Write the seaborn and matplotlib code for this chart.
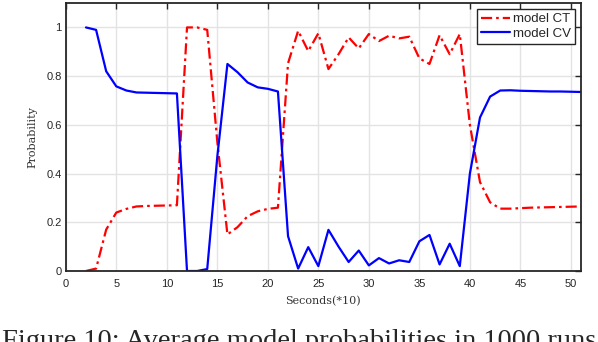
import numpy as np
import pandas as pd
import matplotlib
matplotlib.use("Agg")
import matplotlib.pyplot as plt
import seaborn as sns

# time steps (seconds * 10)
secs = list(range(2, 52))

# model CT probabilities
prob_ct = [0.00, 0.01, 0.17, 0.24, 0.255, 0.265, 0.267, 0.268, 0.269, 0.27,
           1.00, 1.00, 0.99, 0.53, 0.15, 0.18, 0.225, 0.245, 0.255, 0.26,
           0.853, 0.986, 0.903, 0.976, 0.829, 0.89, 0.959, 0.914, 0.973, 0.944,
           0.966, 0.955, 0.962, 0.873, 0.85, 0.968, 0.89, 0.973, 0.60, 0.365,
           0.282, 0.256, 0.256, 0.258, 0.26, 0.261, 0.262, 0.263, 0.264, 0.265]

# model CV probabilities
prob_cv = [1.00, 0.99, 0.82, 0.758, 0.741, 0.733, 0.732, 0.731, 0.73, 0.729,
           0.00, 0.00, 0.008, 0.47, 0.85, 0.816, 0.774, 0.754, 0.748, 0.737,
           0.143, 0.01, 0.098, 0.02, 0.169, 0.10, 0.037, 0.084, 0.023, 0.053,
           0.031, 0.044, 0.037, 0.122, 0.148, 0.027, 0.112, 0.02, 0.40, 0.63,
           0.716, 0.741, 0.742, 0.74, 0.739, 0.738, 0.737, 0.737, 0.736, 0.735]

x_ticks = list(range(0, 51, 5))
y_ticks = [0, 0.2, 0.4, 0.6, 0.8, 1]
y_ticklabels = ["0", "0.2", "0.4", "0.6", "0.8", "1"]

sns.set_style("whitegrid", {"grid.color": "#e3e3e3", "axes.edgecolor": "#262626"})
plt.rcParams["font.family"] = ["Liberation Sans", "DejaVu Sans"]

fig = plt.figure(figsize=(5.98, 3.42), dpi=100)
ax = fig.add_axes([0.110, 0.2076, 0.8616, 0.7834])

df = pd.DataFrame({"sec": secs, "ct": prob_ct, "cv": prob_cv})
sns.lineplot(data=df, x="sec", y="ct", ax=ax, color="#ff0000", lw=1.6,
             label="model CT")
ax.lines[-1].set_dashes([5, 1.8, 1.2, 1.8])
sns.lineplot(data=df, x="sec", y="cv", ax=ax, color="#0000ff", lw=1.6,
             label="model CV")

ax.set_xlim(0, 51)
ax.set_ylim(0, 1.1)
ax.set_xticks(x_ticks)
ax.set_yticks(y_ticks)
ax.set_yticklabels(y_ticklabels)
ax.tick_params(direction="in", length=4, width=1.0, top=True, right=True,
               labelsize=8, colors="#262626", pad=3)
ax.tick_params(axis="x", pad=6)
for s in ax.spines.values():
    s.set_linewidth(1.3)
    s.set_color("#262626")
ax.grid(True, color="#e3e3e3", lw=1.0)

ax.set_xlabel("Seconds(*10)", family="DejaVu Serif", fontsize=8, color="#333333",
              labelpad=5)
ax.set_ylabel("Probability", family="DejaVu Serif", fontsize=8, color="#333333",
              labelpad=6)

leg = ax.legend(loc="upper right", fontsize=9.5, frameon=True, fancybox=False,
                borderaxespad=0.45, handlelength=2.2, handletextpad=0.2,
                borderpad=0.3, labelspacing=0.2)
leg.get_frame().set_edgecolor("#262626")
leg.get_frame().set_linewidth(1.0)
leg.get_frame().set_alpha(1)

# paper caption, cut off at the bottom edge like in the source screenshot
fig.text(0.003, -0.018, "Figure 10: Average model probabilities in 1000 runs",
         family="Liberation Serif", fontsize=20.5, ha="left", va="baseline")

fig.savefig("out.png", dpi=100)
